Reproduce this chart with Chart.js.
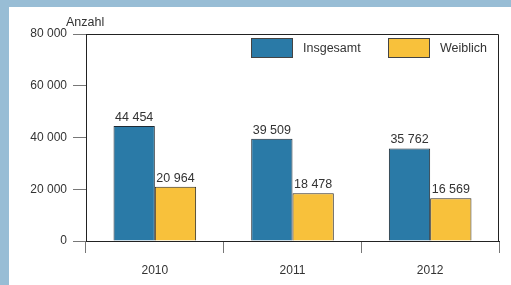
<!DOCTYPE html>
<html>
<head>
<meta charset="utf-8">
<script src="https://cdn.jsdelivr.net/npm/chart.js@4"></script>
<style>
  body { margin: 0; background: #98bdd5; width: 511px; height: 285px; overflow: hidden; }
  #wrap { position: absolute; left: 9px; top: 7px; width: 502px; height: 278px; background: #fff; }
</style>
</head>
<body>
<div id="wrap"><canvas id="myChart" width="502" height="278"></canvas></div>
<script>
const years = ["2010", "2011", "2012"];
const insgesamt = [44454, 39509, 35762];
const weiblich = [20964, 18478, 16569];
const yTicks = [0, 20000, 40000, 60000, 80000];

const family = "'Liberation Sans', Arial, sans-serif";
const textColor = "#333";

function fmt(v) {
    return String(v).replace(/\B(?=(\d{3})+(?!\d))/g, " ");
}

const extras = {
    id: "extras",
    afterDatasetsDraw(chart) {
        const ctx = chart.ctx;
        const area = chart.chartArea;
        ctx.save();
        // frame top and right
        ctx.strokeStyle = "#222";
        ctx.lineWidth = 1;
        ctx.beginPath();
        ctx.moveTo(area.left, area.top + 0.5);
        ctx.lineTo(area.right - 0.5, area.top + 0.5);
        ctx.lineTo(area.right - 0.5, area.bottom);
        ctx.stroke();

        // value labels above bars
        ctx.font = "12.5px " + family;
        ctx.fillStyle = textColor;
        ctx.textAlign = "center";
        ctx.textBaseline = "alphabetic";
        chart.data.datasets.forEach((ds, i) => {
            chart.getDatasetMeta(i).data.forEach((bar, j) => {
                ctx.fillText(fmt(ds.data[j]), bar.x, bar.y - 5);
            });
        });

        // axis title
        ctx.textAlign = "left";
        ctx.fillText("Anzahl", area.left - 20, area.top - 8);

        // legend
        ctx.textBaseline = "middle";
        const starts = [area.right - 248, area.right - 111];
        chart.data.datasets.forEach((ds, i) => {
            const x = starts[i];
            ctx.fillStyle = ds.backgroundColor;
            ctx.fillRect(x, area.top + 4, 42, 20);
            ctx.strokeStyle = "#444";
            ctx.strokeRect(x + 0.5, area.top + 4.5, 41, 19);
            ctx.fillStyle = textColor;
            ctx.fillText(ds.label, x + 52, area.top + 15);
        });
        ctx.restore();
    }
};

new Chart(document.getElementById("myChart"), {
    type: "bar",
    data: {
        labels: years,
        datasets: [{
            label: "Insgesamt",
            data: insgesamt,
            backgroundColor: "#2a7aa7",
            borderColor: "#1f2a33",
            borderWidth: 1,
            categoryPercentage: 0.6,
            barPercentage: 1
        }, {
            label: "Weiblich",
            data: weiblich,
            backgroundColor: "#f8c13b",
            borderColor: "#2e2a20",
            borderWidth: 1,
            categoryPercentage: 0.6,
            barPercentage: 1
        }]
    },
    options: {
        responsive: false,
        animation: false,
        layout: { padding: { top: 27, right: 12, left: 0, bottom: 0 } },
        plugins: { legend: { display: false }, tooltip: { enabled: false } },
        scales: {
            x: {
                grid: { offset: true, drawOnChartArea: false, tickLength: 12, color: "#777" },
                border: { color: "#222" },
                ticks: { font: { family: family, size: 12 }, color: textColor, padding: 10 },
                afterFit: s => { s.height = 44; }
            },
            y: {
                min: 0,
                max: 80000,
                afterBuildTicks: s => { s.ticks = yTicks.map(v => ({ value: v })); },
                grid: { drawOnChartArea: false, tickLength: 13, color: "#777" },
                border: { color: "#222" },
                ticks: {
                    font: { family: family, size: 12 },
                    color: textColor,
                    padding: 6,
                    callback: v => fmt(v)
                },
                afterFit: s => { s.width = 77; }
            }
        }
    },
    plugins: [extras]
});
</script>
</body>
</html>
